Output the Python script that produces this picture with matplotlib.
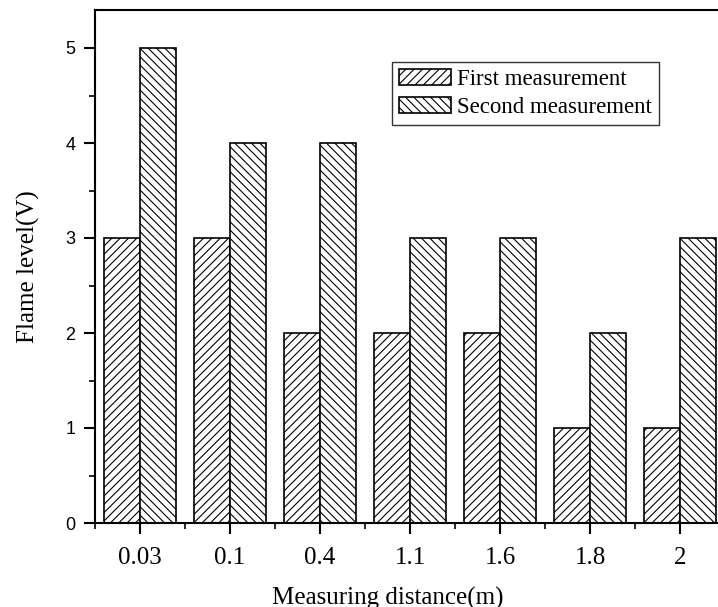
import matplotlib.pyplot as plt
import numpy as np
from matplotlib.ticker import MultipleLocator

distances = ["0.03", "0.1", "0.4", "1.1", "1.6", "1.8", "2"]
first = [3, 3, 2, 2, 2, 1, 1]
second = [5, 4, 4, 3, 3, 2, 3]

plt.rcParams["hatch.linewidth"] = 0.8
serif = "Liberation Serif"
sans = "Liberation Sans"

fig = plt.figure(figsize=(7.18, 6.07), dpi=100)
ax = fig.add_axes([95 / 718, 84 / 607, 630 / 718, 513 / 607])

x = np.arange(len(distances))
w = 0.4
ax.bar(x - w / 2, first, w, facecolor="white", edgecolor="black",
       linewidth=1.2, hatch="////", label="First measurement")
ax.bar(x + w / 2, second, w, facecolor="white", edgecolor="black",
       linewidth=1.2, hatch="\\\\\\\\", label="Second measurement")

ax.set_xlim(-0.5, len(distances) - 0.5)
ax.set_ylim(0, 5.4)
ax.set_xticks(x)
ax.set_xticklabels(distances, fontfamily=serif, fontsize=18)
ax.xaxis.set_minor_locator(MultipleLocator(1, offset=0.5))
ax.yaxis.set_major_locator(MultipleLocator(1))
ax.yaxis.set_minor_locator(MultipleLocator(0.5))
for lab in ax.get_yticklabels():
    lab.set_fontfamily(sans)
    lab.set_fontsize(13)

ax.tick_params(which="major", direction="out", length=8, width=1.5, pad=6)
ax.tick_params(which="minor", direction="out", length=4, width=1.2)
ax.tick_params(axis="x", which="major", pad=9)
for s in ax.spines.values():
    s.set_linewidth(1.5)

ax.set_ylabel("Flame level(V)", fontfamily=serif, fontsize=18)
ax.yaxis.set_label_coords(-0.088, 0.5)
ax.set_xlabel("Measuring distance(m)", fontfamily=serif, fontsize=18)
ax.xaxis.set_label_coords(0.465, -0.124)

leg = ax.legend(loc="upper left", bbox_to_anchor=(0.471, 0.899),
                prop={"family": serif, "size": 16.5}, frameon=True,
                fancybox=False, edgecolor="black", handlelength=2.3,
                handleheight=0.7, handletextpad=0.25, borderpad=0.3,
                labelspacing=0.3, borderaxespad=0)
leg.get_frame().set_linewidth(1.0)

fig.savefig("out.png", dpi=100)
